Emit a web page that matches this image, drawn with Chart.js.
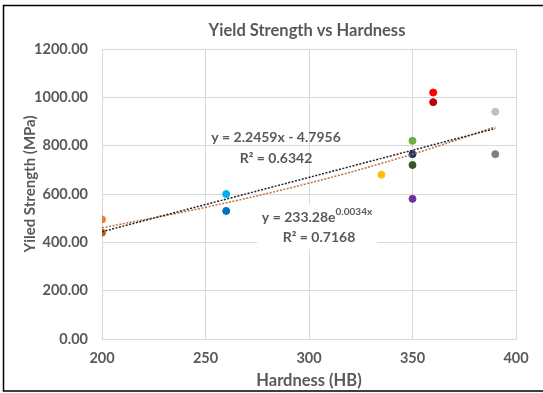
<!DOCTYPE html>
<html>
<head>
<meta charset="utf-8">
<script src="https://cdn.jsdelivr.net/npm/chart.js@4"></script>
<style>
  html, body { margin: 0; padding: 0; background: #fff; }
  #wrap { width: 543px; height: 393px; position: relative; }
</style>
</head>
<body>
<div id="wrap"><canvas id="chart" width="543" height="393"></canvas></div>
<script>
// measured points (hardness HB, yield strength MPa) and their colours
const hardness = [200, 200, 260, 260, 335, 350, 350, 350, 350, 360, 360, 390, 390];
const strength = [495, 440, 600, 530, 680, 820, 765, 720, 580, 1020, 980, 940, 765];
const pointColors = [
  "#ED7D31", "#C55A11", "#00B0F0", "#0070C0", "#FFC000", "#70AD47",
  "#203864", "#375623", "#7030A0", "#FF0000", "#C00000", "#BFBFBF", "#808080",
];

// trendlines
const linTrendX = [200, 390];
const linTrendY = [444, 871];
const expTrendX = [200, 250, 300, 350, 390];
const expTrendY = [460, 545, 645, 765, 878];

const xTicks = [200, 250, 300, 350, 400];
const yTicks = [0, 200, 400, 600, 800, 1000, 1200];

const TEXT = "#595959";
const FONT = "Lato";

const toXY = (xs, ys) => xs.map((x, i) => ({ x, y: ys[i] }));

const overlay = {
  id: "overlay",
  beforeDraw(chart) {
    const c = chart.ctx;
    c.save();
    c.fillStyle = "#fff";
    c.fillRect(0, 0, chart.width, chart.height);
    c.restore();
  },
  afterDatasetsDraw(chart) {
    const c = chart.ctx;
    c.save();
    c.fillStyle = TEXT;
    c.textAlign = "center";
    c.textBaseline = "middle";

    c.font = `bold 16.5px ${FONT}`;
    c.fillText("Yield Strength vs Hardness", 307, 31);

    c.font = `bold 16.5px ${FONT}`;
    c.fillText("Hardness (HB)", 309, 381);

    c.save();
    c.translate(30, 184);
    c.rotate(-Math.PI / 2);
    c.font = `bold 15px ${FONT}`;
    c.fillText("Yiled Strength (MPa)", 0, 0);
    c.restore();

    // linear equation
    c.font = `bold 14px ${FONT}`;
    c.fillText("y = 2.2459x - 4.7956", 276, 137);
    c.fillText("R² = 0.6342", 276, 158);

    // exponential equation box
    c.fillStyle = "#fff";
    c.fillRect(257, 205, 120, 44);
    c.fillStyle = TEXT;
    c.font = `bold 14px ${FONT}`;
    c.textAlign = "left";
    const base = "y = 233.28e";
    const bw = c.measureText(base).width;
    c.font = `bold 10px ${FONT}`;
    const ew = c.measureText("0.0034x").width;
    let x0 = 317 - (bw + ew) / 2;
    c.font = `bold 14px ${FONT}`;
    c.fillText(base, x0, 217);
    c.font = `bold 10px ${FONT}`;
    c.fillText("0.0034x", x0 + bw, 212);
    c.textAlign = "center";
    c.font = `bold 14px ${FONT}`;
    c.fillText("R² = 0.7168", 319, 237);

    // frame (top, left, bottom; right edge runs off the picture)
    c.strokeStyle = "#000";
    c.lineWidth = 1.5;
    c.beginPath();
    c.moveTo(543, 5.5);
    c.lineTo(3.5, 5.5);
    c.lineTo(3.5, 391);
    c.lineTo(543, 391);
    c.stroke();
    c.restore();
  },
};

new Chart(document.getElementById("chart"), {
  type: "scatter",
  data: {
    datasets: [
      {
        label: "Linear",
        type: "line",
        data: toXY(linTrendX, linTrendY),
        borderColor: "#262626",
        borderWidth: 1.5,
        borderDash: [2, 1.5],
        pointRadius: 0,
        fill: false,
      },
      {
        label: "Expon.",
        type: "line",
        data: toXY(expTrendX, expTrendY),
        borderColor: "#C07040",
        borderWidth: 1.5,
        borderDash: [2, 1.5],
        pointRadius: 0,
        tension: 0.4,
        fill: false,
      },
      {
        label: "Data",
        data: toXY(hardness, strength),
        pointBackgroundColor: pointColors,
        pointBorderColor: pointColors,
        pointRadius: 3.5,
      },
    ],
  },
  options: {
    responsive: false,
    animation: false,
    devicePixelRatio: 1,
    layout: { padding: { top: 49, right: 27, left: 0, bottom: 0 } },
    plugins: { legend: { display: false }, tooltip: { enabled: false }, title: { display: false } },
    scales: {
      x: {
        type: "linear",
        min: 200,
        max: 400,
        afterBuildTicks: (s) => { s.ticks = xTicks.map((v) => ({ value: v })); },
        afterFit: (s) => { s.height = 54; },
        grid: { color: "#D9D9D9", drawTicks: false },
        border: { color: "#D9D9D9" },
        ticks: { color: TEXT, padding: 11, font: { family: FONT, size: 14.5, weight: "bold" } },
      },
      y: {
        type: "linear",
        min: 0,
        max: 1200,
        afterBuildTicks: (s) => { s.ticks = yTicks.map((v) => ({ value: v })); },
        afterFit: (s) => { s.width = 102; },
        grid: { color: "#D9D9D9", drawTicks: false },
        border: { color: "#D9D9D9" },
        ticks: {
          color: TEXT,
          padding: 14,
          font: { family: FONT, size: 14.5, weight: "bold" },
          callback: (v) => v.toFixed(2),
        },
      },
    },
  },
  plugins: [overlay],
});
</script>
</body>
</html>
